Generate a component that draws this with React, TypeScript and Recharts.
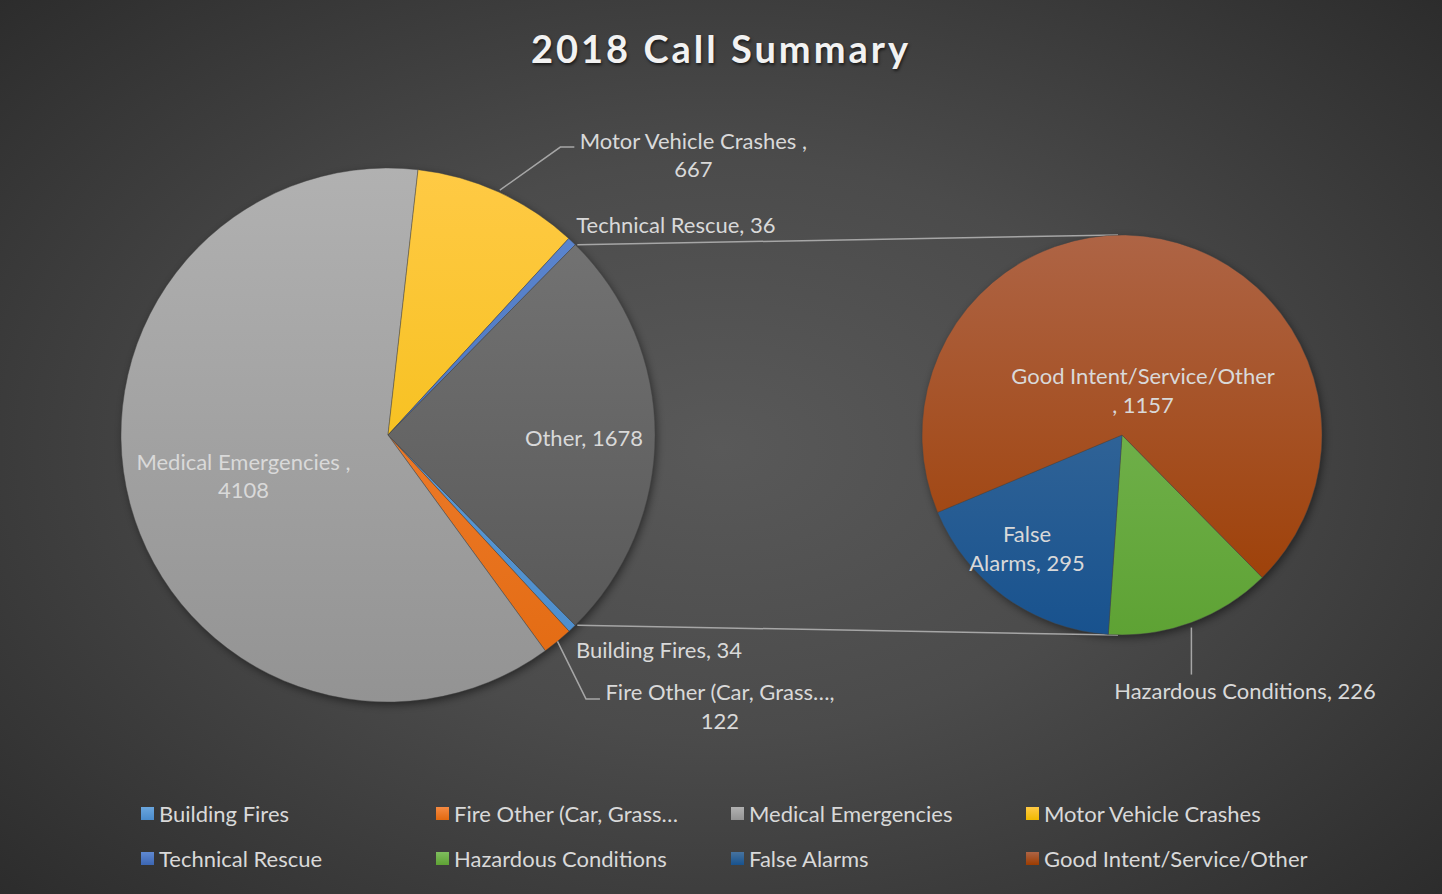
import React from 'react';
import { PieChart, Pie, Cell, Customized } from 'recharts';

const W = 1442;
const H = 894;

// ---- data ----
const mainNames = ['Building Fires', 'Fire Other (Car, Grass…', 'Medical Emergencies', 'Motor Vehicle Crashes', 'Technical Rescue', 'Other'];
const mainValues = [34, 122, 4108, 667, 36, 1678];
const subNames = ['Hazardous Conditions', 'False Alarms', 'Good Intent/Service/Other'];
const subValues = [226, 295, 1157];
const legendNames = ['Building Fires', 'Fire Other (Car, Grass…', 'Medical Emergencies', 'Motor Vehicle Crashes', 'Technical Rescue', 'Hazardous Conditions', 'False Alarms', 'Good Intent/Service/Other'];
const titleText = '2018 Call Summary';

// ---- styles ----
const FONT = 'Lato, "Noto Sans", sans-serif';
const LABEL_COLOR = '#d9d9d9';
const fillIds: Record<string, string> = {
  'Building Fires': 'g-bf',
  'Fire Other (Car, Grass…': 'g-fo',
  'Medical Emergencies': 'g-me',
  'Motor Vehicle Crashes': 'g-mv',
  'Technical Rescue': 'g-tr',
  'Other': 'g-ot',
  'Hazardous Conditions': 'g-hc',
  'False Alarms': 'g-fa',
  'Good Intent/Service/Other': 'g-gi',
};
const gradStops: Record<string, [string, string]> = {
  'g-bf': ['#6aa6de', '#4a8bcb'],
  'g-fo': ['#f68a42', '#e2690f'],
  'g-me': ['#b1b1b1', '#939393'],
  'g-mv': ['#ffca45', '#efb900'],
  'g-tr': ['#5f89d2', '#3c66b2'],
  'g-ot': ['#777777', '#545454'],
  'g-hc': ['#7fbd5e', '#5ea234'],
  'g-fa': ['#46739f', '#18528e'],
  'g-gi': ['#ae6445', '#9c3c00'],
};

const MAIN = { cx: 388, cy: 435, r: 267 };
const SUB = { cx: 1122, cy: 435, r: 200 };

const mainData = mainNames.map((name, i) => ({ name, value: mainValues[i] }));
const subData = subNames.map((name, i) => ({ name, value: subValues[i] }));
const mainTotal = mainValues.reduce((a, b) => a + b, 0);
const otherValue = mainValues[mainNames.indexOf('Other')];
const halfOtherAngle = (otherValue / mainTotal) * 360 / 2;
const mainStart = -halfOtherAngle;
const subStart = -halfOtherAngle;

type LabelSpec = {
  k: number;
  dx: number;
  dy: number;
  anchor: 'start' | 'middle' | 'end';
  lines: (n: string, v: number) => string[];
  leader?: [number, number][];
};

const labelLayout: Record<string, LabelSpec> = {
  'Medical Emergencies': { k: 0.56, dx: 0, dy: 2.5, anchor: 'middle', lines: (n, v) => [`${n} ,`, `${v}`] },
  'Other': { k: 0.734, dx: 0, dy: 2, anchor: 'middle', lines: (n, v) => [`${n}, ${v}`] },
  'Motor Vehicle Crashes': { k: 1, dx: 194.5, dy: -37.5, anchor: 'middle', lines: (n, v) => [`${n} ,`, `${v}`], leader: [[1, -2], [61.5, -45], [75.5, -45]] },
  'Technical Rescue': { k: 1, dx: 4.2, dy: -17.4, anchor: 'start', lines: (n, v) => [`${n}, ${v}`] },
  'Building Fires': { k: 1, dx: 3.7, dy: 21.7, anchor: 'start', lines: (n, v) => [`${n}, ${v}`] },
  'Fire Other (Car, Grass…': { k: 1, dx: 162.5, dy: 64.6, anchor: 'middle', lines: (n, v) => [`${n},`, `${v}`], leader: [[0, 0], [28.5, 57.6], [42.5, 57.6]] },
  'Hazardous Conditions': { k: 1, dx: 53.6, dy: 68.4, anchor: 'middle', lines: (n, v) => [`${n}, ${v}`], leader: [[0, 5], [0, 52]] },
  'Good Intent/Service/Other': { k: 0.23, dx: 12, dy: 0, anchor: 'middle', lines: (n, v) => [n, `, ${v}`] },
  'False Alarms': { k: 0.75, dx: -7.7, dy: -9, anchor: 'middle', lines: (n, v) => ['False', `Alarms, ${v}`] },
};

const RAD = Math.PI / 180;
const LH = 28.5;

const renderLabel = (props: any) => {
  const { cx, cy, midAngle, outerRadius, name, value } = props;
  const spec = labelLayout[name];
  if (!spec) return null;
  const ex = cx + outerRadius * Math.cos(-midAngle * RAD);
  const ey = cy + outerRadius * Math.sin(-midAngle * RAD);
  const px = cx + spec.k * outerRadius * Math.cos(-midAngle * RAD) + spec.dx;
  const py = cy + spec.k * outerRadius * Math.sin(-midAngle * RAD) + spec.dy;
  const lines = spec.lines(name, value);
  const y0 = py - ((lines.length - 1) * LH) / 2;
  return (
    <g>
      {spec.leader && (
        <polyline
          points={spec.leader.map(([a, b]) => `${ex + a},${ey + b}`).join(' ')}
          fill="none"
          stroke="#a6a6a6"
          strokeWidth={1.5}
        />
      )}
      {lines.map((t, i) => (
        <text
          key={i}
          x={px}
          y={y0 + i * LH}
          textAnchor={spec.anchor}
          dominantBaseline="central"
          fill={LABEL_COLOR}
          fontFamily={FONT}
          fontSize={22}
        >
          {t}
        </text>
      ))}
    </g>
  );
};

const Backdrop = () => (
  <g>
    <defs>
      {Object.entries(gradStops).map(([id, [a, b]]) => {
        const isSub = ['g-hc', 'g-fa', 'g-gi'].includes(id);
        const c = isSub ? SUB : MAIN;
        return (
          <linearGradient key={id} id={id} gradientUnits="userSpaceOnUse" x1={0} x2={0} y1={c.cy - c.r} y2={c.cy + c.r}>
            <stop offset="0%" stopColor={a} />
            <stop offset="100%" stopColor={b} />
          </linearGradient>
        );
      })}
      <filter id="pieShadow" x="-20%" y="-20%" width="140%" height="140%">
        <feDropShadow dx={2} dy={3} stdDeviation={5} floodColor="#000" floodOpacity={0.55} />
      </filter>
    </defs>
    <circle cx={MAIN.cx} cy={MAIN.cy} r={MAIN.r - 1} fill="#444" filter="url(#pieShadow)" />
    <circle cx={SUB.cx} cy={SUB.cy} r={SUB.r - 1} fill="#444" filter="url(#pieShadow)" />
  </g>
);

const Connectors = () => {
  const a1 = halfOtherAngle * RAD;
  const x1 = MAIN.cx + MAIN.r * Math.cos(a1);
  const yTop = MAIN.cy - MAIN.r * Math.sin(a1);
  const yBot = MAIN.cy + MAIN.r * Math.sin(a1);
  return (
    <g>
      <line x1={x1 + 2} y1={yTop} x2={SUB.cx - 4} y2={SUB.cy - SUB.r} stroke="#a6a6a6" strokeWidth={1.5} />
      <line x1={x1 + 2} y1={yBot} x2={SUB.cx - 4} y2={SUB.cy + SUB.r} stroke="#a6a6a6" strokeWidth={1.5} />
    </g>
  );
};

export default function App() {
  return (
    <div
      style={{
        position: 'absolute',
        left: 0,
        top: 0,
        width: W,
        height: H,
        overflow: 'hidden',
        background: 'radial-gradient(ellipse 75% 80% at 50% 50%, #595959 0%, #4b4b4b 40%, #363636 75%, #272727 100%)',
        fontFamily: FONT,
      }}
    >
      <div
        style={{
          position: 'absolute',
          left: 0,
          width: W,
          top: 22,
          textAlign: 'center',
          fontSize: 38,
          fontWeight: 700,
          letterSpacing: 3,
          color: '#f2f2f2',
          textShadow: '1px 2px 3px rgba(0,0,0,0.6)',
          lineHeight: '52px',
        }}
      >
        {titleText}
      </div>
      <div style={{ position: 'absolute', left: 0, top: 0 }}>
        <PieChart width={W} height={H} margin={{ top: 0, right: 0, bottom: 0, left: 0 }}>
          <Customized component={Backdrop} />
          <Customized component={Connectors} />
          <Pie
            data={mainData}
            dataKey="value"
            nameKey="name"
            cx={MAIN.cx}
            cy={MAIN.cy}
            outerRadius={MAIN.r}
            startAngle={mainStart}
            endAngle={mainStart - 360}
            isAnimationActive={false}
            label={renderLabel}
            labelLine={false}
            stroke="rgba(70,70,70,0.6)"
            strokeWidth={0.75}
          >
            {mainData.map((d) => (
              <Cell key={d.name} fill={`url(#${fillIds[d.name]})`} />
            ))}
          </Pie>
          <Pie
            data={subData}
            dataKey="value"
            nameKey="name"
            cx={SUB.cx}
            cy={SUB.cy}
            outerRadius={SUB.r}
            startAngle={subStart}
            endAngle={subStart - 360}
            isAnimationActive={false}
            label={renderLabel}
            labelLine={false}
            stroke="rgba(70,70,70,0.6)"
            strokeWidth={0.75}
          >
            {subData.map((d) => (
              <Cell key={d.name} fill={`url(#${fillIds[d.name]})`} />
            ))}
          </Pie>
        </PieChart>
      </div>
      {legendNames.map((n, i) => {
        const col = i % 4;
        const row = Math.floor(i / 4);
        const [a, b] = gradStops[fillIds[n]];
        return (
          <div
            key={n}
            style={{
              position: 'absolute',
              left: 141 + col * 295,
              top: 799 + row * 45,
              height: 28,
              display: 'flex',
              alignItems: 'center',
              color: LABEL_COLOR,
              fontSize: 22,
              whiteSpace: 'nowrap',
            }}
          >
            <span
              style={{
                display: 'inline-block',
                width: 13,
                height: 13,
                marginRight: 5,
                background: `linear-gradient(${a}, ${b})`,
              }}
            />
            <span>{n}</span>
          </div>
        );
      })}
    </div>
  );
}
